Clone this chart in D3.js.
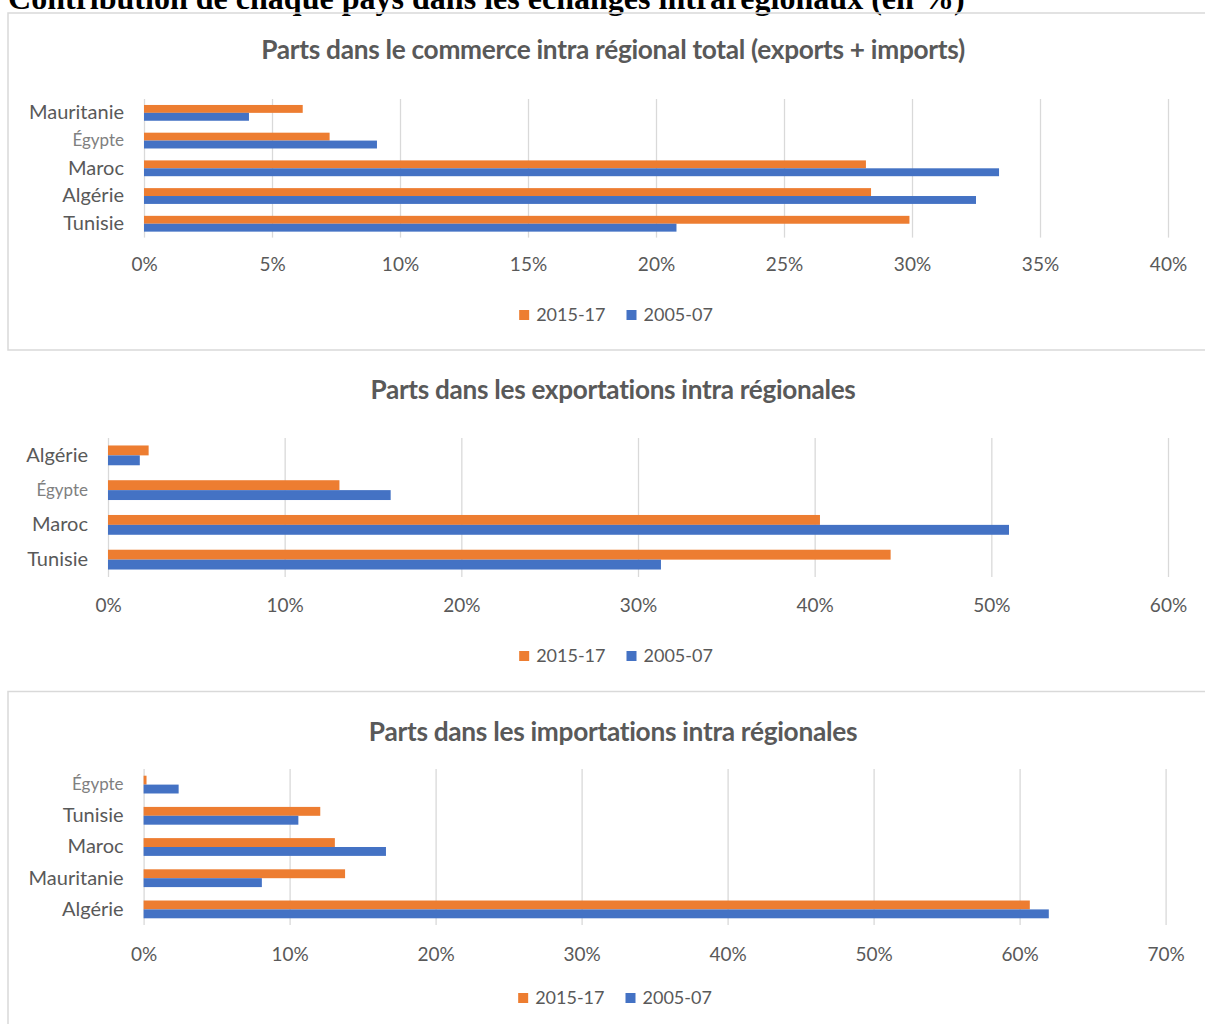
<!DOCTYPE html>
<meta charset="utf-8">
<script src="https://d3js.org/d3.v7.min.js"></script>
<style>
  body { margin: 0; background: #fff; }
  svg { display: block; }
</style>
<div id="my_dataviz"></div>
<script>

// series names (orange = recent period, blue = older period)
var seriesNames = ["2015-17", "2005-07"];
var seriesColors = ["#ED7D31", "#4472C4"];

// chart 1 : total intra-regional trade
var cats1 = ["Mauritanie", "Égypte", "Maroc", "Algérie", "Tunisie"];
var recent1 = [6.2, 7.25, 28.2, 28.4, 29.9];
var old1 = [4.1, 9.1, 33.4, 32.5, 20.8];
var ticks1 = [0, 5, 10, 15, 20, 25, 30, 35, 40];

// chart 2 : exports
var cats2 = ["Algérie", "Égypte", "Maroc", "Tunisie"];
var recent2 = [2.3, 13.1, 40.3, 44.3];
var old2 = [1.8, 16.0, 51.0, 31.3];
var ticks2 = [0, 10, 20, 30, 40, 50, 60];

// chart 3 : imports
var cats3 = ["Égypte", "Tunisie", "Maroc", "Mauritanie", "Algérie"];
var recent3 = [0.2, 12.1, 13.1, 13.8, 60.7];
var old3 = [2.4, 10.6, 16.6, 8.1, 62.0];
var ticks3 = [0, 10, 20, 30, 40, 50, 60, 70];

var W = 1205, H = 1024;
var textColor = "#595959";
var gridColor = "#d9d9d9";
var font = "Lato, 'Open Sans', sans-serif";

var svg = d3.select("#my_dataviz")
  .append("svg")
    .attr("width", W)
    .attr("height", H);

// scale a text element's font so it spans a given width
function fitText(sel, width) {
  var len = sel.node().getComputedTextLength();
  var size = parseFloat(sel.style("font-size"));
  sel.style("font-size", (size * width / len) + "px");
}

// main title (its top is cut by the page edge, as in the source document)
var mainTitle = svg.append("text")
  .attr("x", 8)
  .attr("y", 9)
  .style("font-family", "'Liberation Serif', 'Times New Roman', serif")
  .style("font-weight", "bold")
  .style("font-size", "25px")
  .style("fill", "#000")
  .text("Contribution de chaque pays dans les échanges intrarégionaux (en %)");
fitText(mainTitle, 957);

function drawChart(c) {
  var g = svg.append("g");

  if (c.box) {
    g.append("rect")
      .attr("x", c.box[0]).attr("y", c.box[1])
      .attr("width", c.box[2]).attr("height", c.box[3])
      .style("fill", "none")
      .style("stroke", gridColor)
      .style("stroke-width", 1.5);
  }

  // chart title
  var t = g.append("text")
    .attr("x", 613)
    .attr("y", c.titleY)
    .style("text-anchor", "middle")
    .style("font-family", font)
    .style("font-weight", "bold")
    .style("font-size", "22px")
    .style("fill", textColor)
    .style("letter-spacing", "-0.3px")
    .text(c.title);
  fitText(t, c.titleW);

  var x = d3.scaleLinear()
    .domain([0, c.ticks[c.ticks.length - 1]])
    .range([c.x0, c.x1]);

  var y = d3.scaleBand()
    .domain(c.cats)
    .range([c.y0, c.y1])
    .paddingInner(0.43)
    .paddingOuter(0.215);

  var ySub = d3.scaleBand()
    .domain(seriesNames)
    .range([0, y.bandwidth()]);

  // vertical gridlines
  g.append("g")
    .attr("transform", "translate(0," + c.y1 + ")")
    .call(d3.axisBottom(x).tickValues(c.ticks).tickSize(-(c.y1 - c.y0)).tickFormat(""))
    .call(function(a) { a.select(".domain").remove(); })
    .selectAll("line")
      .style("stroke", gridColor)
      .style("stroke-width", 1.3);

  // bars
  var rows = c.cats.map(function(d, i) {
    return { cat: d, values: [c.recent[i], c.old[i]] };
  });

  var groups = g.selectAll(".grp")
    .data(rows)
    .enter()
    .append("g")
      .attr("transform", function(d) { return "translate(0," + y(d.cat) + ")"; });

  groups.selectAll("rect")
    .data(function(d) { return d.values.map(function(v, j) { return { key: seriesNames[j], value: v, color: seriesColors[j] }; }); })
    .enter()
    .append("rect")
      .attr("x", x(0))
      .attr("y", function(d) { return ySub(d.key); })
      .attr("width", function(d) { return x(d.value) - x(0); })
      .attr("height", ySub.bandwidth())
      .style("fill", function(d) { return d.color; });

  // category axis
  var yAxis = g.append("g")
    .attr("transform", "translate(" + c.x0 + ",0)")
    .call(d3.axisLeft(y).tickSize(0).tickPadding(20));
  yAxis.select(".domain").remove();
  yAxis.selectAll("text")
    .style("font-family", font)
    .style("font-size", "20px")
    .style("fill", textColor)
    .filter(function(d) { return d === "Égypte"; })
      .style("font-size", "17px")
      .style("fill", "#808080");

  // value axis labels
  var xAxis = g.append("g")
    .attr("transform", "translate(0," + c.y1 + ")")
    .call(d3.axisBottom(x).tickValues(c.ticks).tickSize(0)
      .tickPadding(c.tickY - c.y1 - 7)
      .tickFormat(function(d) { return d + "%"; }));
  xAxis.select(".domain").remove();
  xAxis.selectAll("text")
    .style("font-family", font)
    .style("font-size", "19px")
    .style("fill", textColor);

  // legend
  var leg = g.append("g");
  var cx = 0;
  seriesNames.forEach(function(name, i) {
    leg.append("rect")
      .attr("x", cx).attr("y", -5)
      .attr("width", 10).attr("height", 10)
      .style("fill", seriesColors[i]);
    var lt = leg.append("text")
      .attr("x", cx + 17)
      .attr("y", 0)
      .attr("dy", "0.35em")
      .style("font-family", font)
      .style("font-size", "18px")
      .style("fill", textColor)
      .text(name);
    cx += 17 + lt.node().getComputedTextLength() + 21;
  });
  var legW = cx - 21;
  leg.attr("transform", "translate(" + (c.legX - legW / 2) + "," + c.legY + ")");
}

drawChart({
  title: "Parts dans le commerce intra régional total (exports + imports)",
  titleY: 59, titleW: 700,
  cats: cats1, recent: recent1, old: old1, ticks: ticks1,
  x0: 144, x1: 1168, y0: 99, y1: 237.6,
  tickY: 265, legX: 616, legY: 315,
  box: [8, 13, 1220, 337]
});

drawChart({
  title: "Parts dans les exportations intra régionales",
  titleY: 399, titleW: 483,
  cats: cats2, recent: recent2, old: old2, ticks: ticks2,
  x0: 108, x1: 1168, y0: 438, y1: 577,
  tickY: 606, legX: 616, legY: 656,
  box: null
});

drawChart({
  title: "Parts dans les importations intra régionales",
  titleY: 741, titleW: 486,
  cats: cats3, recent: recent3, old: old3, ticks: ticks3,
  x0: 143.6, x1: 1165.6, y0: 769, y1: 925,
  tickY: 955, legX: 615, legY: 998,
  box: [8, 691.5, 1220, 400]
});

</script>
